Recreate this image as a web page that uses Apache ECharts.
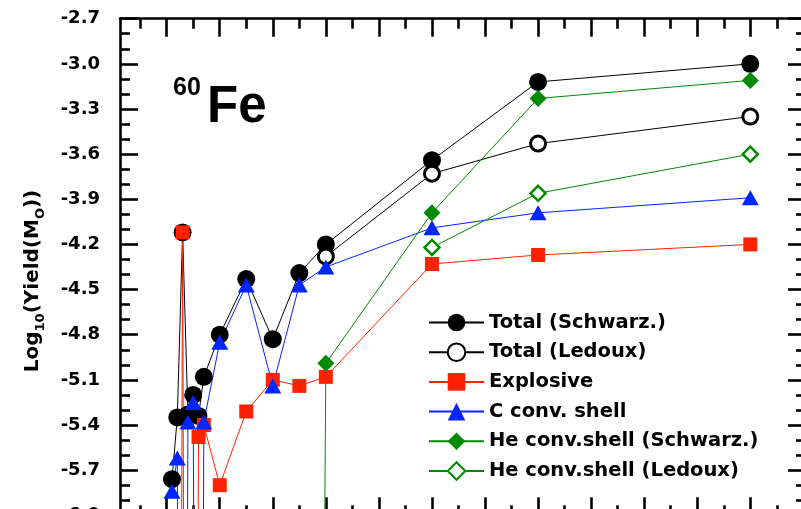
<!DOCTYPE html>
<html>
<head>
<meta charset="utf-8">
<script src="https://cdn.jsdelivr.net/npm/echarts@6/dist/echarts.min.js"></script>
<style>
  html, body { margin: 0; padding: 0; overflow: hidden; background: #ffffff; }
  #chart { width: 830px; height: 540px; }
</style>
</head>
<body>
<div id="chart"></div>
<script>
// Initial stellar mass of each model (solar masses)
const masses = [11, 12, 13, 14, 15, 16, 17, 20, 25, 30, 35, 40, 60, 80, 120];

// log10 of the 60Fe yield (solar masses); a negligible contribution is kept far below the axis floor
const totalSchwarz   = [-5.76, -5.35, -4.12, -5.33, -5.20, -5.34, -5.08, -4.80, -4.43, -4.83, -4.39, -4.20, -3.64, -3.12, -3.00];
const totalLedoux    = [null, null, null, null, null, null, null, null, null, null, null, -4.28, -3.73, -3.53, -3.35];
const explosive      = [-15, -15, -4.12, -15, -15, -5.48, -5.40, -5.80, -5.31, -5.10, -5.14, -5.08, -4.33, -4.27, -4.20];
const cConvShell     = [-5.84, -5.62, -15, -5.38, -5.25, -15, -5.38, -4.85, -4.47, -5.14, -4.47, -4.35, -4.09, -3.99, -3.89];
const heShellSchwarz = [null, null, null, null, null, null, null, null, null, null, -30, -4.99, -3.99, -3.23, -3.11];
const heShellLedoux  = [null, null, null, null, null, null, null, null, null, null, null, null, -4.22, -3.86, -3.60];

// Axis ranges and tick positions
const massMin = 1.2, massMax = 130.5;
const xMajorTicks = [10, 20, 30, 40, 50, 60, 70, 80, 90, 100, 110, 120];
const xMinorTicks = [5, 15, 25, 35, 45, 55, 65, 75, 85, 95, 105, 115, 125];
const yMin = -6.0, yMax = -2.7, yStep = 0.3;

const seriesNames = [
  'Total (Schwarz.)', 'Total (Ledoux)', 'Explosive',
  'C conv. shell', 'He conv.shell (Schwarz.)', 'He conv.shell (Ledoux)'
];

const RED = '#ff2200', BLUE = '#0026ff', GREEN = '#008a00', BLACK = '#000000';

function pairs(vals) {
  return masses.map((m, i) => vals[i] === null ? null : [m, vals[i]]).filter(p => p !== null);
}

const frame = { show: true, lineStyle: { color: '#000', width: 2.6 } };

function xAxisDef(position, ticks, len, showLine) {
  return {
    type: 'value', position: position, min: massMin, max: massMax,
    axisLine: showLine ? frame : { show: false },
    axisTick: { show: true, inside: true, length: len, customValues: ticks,
                lineStyle: { color: '#000', width: 2.6 } },
    axisLabel: { show: false },
    splitLine: { show: false }
  };
}

function yAxisDef(position, showLabels) {
  return {
    type: 'value', position: position, min: yMin, max: yMax, interval: yStep,
    axisLine: frame,
    axisTick: { show: true, inside: true, length: 18, lineStyle: { color: '#000', width: 2.6 } },
    minorTick: { show: true, splitNumber: 3, length: 10, lineStyle: { color: '#000', width: 2.6 } },
    axisLabel: {
      show: showLabels, margin: 20, color: '#000',
      fontFamily: 'DejaVu Sans', fontWeight: 'bold', fontSize: 18,
      formatter: v => v.toFixed(1)
    },
    splitLine: { show: false }
  };
}

const chart = echarts.init(document.getElementById('chart'), null, { renderer: 'canvas' });

chart.setOption({
  backgroundColor: '#ffffff',
  animation: false,
  grid: { left: 120, top: 18.7, width: 686, height: 496.6, containLabel: false },
  xAxis: [
    xAxisDef('bottom', xMajorTicks, 18, true),
    xAxisDef('top', xMajorTicks, 18, true),
    xAxisDef('bottom', xMinorTicks, 10, false),
    xAxisDef('top', xMinorTicks, 10, false)
  ],
  yAxis: [yAxisDef('left', true), yAxisDef('right', false)],
  legend: {
    orient: 'vertical', left: 428, top: 312.5, padding: 0,
    itemWidth: 55, itemHeight: 22, itemGap: 9.7,
    textStyle: { fontFamily: 'DejaVu Sans', fontWeight: 'bold', fontSize: 19.5, color: '#000' },
    data: seriesNames
  },
  graphic: [
    { type: 'text', left: 173, top: 76,
      style: { text: '60', fontFamily: 'Liberation Sans', fontWeight: 'bold', fontSize: 25, fill: '#000' } },
    { type: 'text', left: 207, top: 82,
      style: { text: 'Fe', fontFamily: 'Liberation Sans', fontWeight: 'bold', fontSize: 51, fill: '#000' } },
    { type: 'text', x: 33, y: 281, rotation: Math.PI / 2,
      style: {
        text: '{a|Log}{s|10}{a|(Yield(M}{s|O}{a|))}',
        align: 'center', verticalAlign: 'middle',
        rich: {
          a: { fontFamily: 'DejaVu Sans', fontWeight: 'bold', fontSize: 20, lineHeight: 28, fill: '#000' },
          s: { fontFamily: 'DejaVu Sans', fontWeight: 'bold', fontSize: 13, lineHeight: 14,
               verticalAlign: 'bottom', fill: '#000' }
        }
      } }
  ],
  series: [
    { name: seriesNames[0], type: 'line', data: pairs(totalSchwarz),
      symbol: 'circle', symbolSize: 18,
      lineStyle: { color: BLACK, width: 1 }, itemStyle: { color: BLACK } },
    { name: seriesNames[1], type: 'line', data: pairs(totalLedoux),
      symbol: 'circle', symbolSize: 15,
      lineStyle: { color: BLACK, width: 1 },
      itemStyle: { color: '#fff', borderColor: BLACK, borderWidth: 3 } },
    { name: seriesNames[2], type: 'line', data: pairs(explosive),
      symbol: 'rect', symbolSize: 14,
      lineStyle: { color: RED, width: 1 }, itemStyle: { color: RED } },
    { name: seriesNames[3], type: 'line', data: pairs(cConvShell),
      symbol: 'triangle', symbolSize: [17, 15],
      lineStyle: { color: BLUE, width: 1 }, itemStyle: { color: BLUE } },
    { name: seriesNames[4], type: 'line', data: pairs(heShellSchwarz),
      symbol: 'diamond', symbolSize: 17,
      lineStyle: { color: GREEN, width: 1 }, itemStyle: { color: GREEN } },
    { name: seriesNames[5], type: 'line', data: pairs(heShellLedoux),
      symbol: 'diamond', symbolSize: 15,
      lineStyle: { color: GREEN, width: 1 },
      itemStyle: { color: '#fff', borderColor: GREEN, borderWidth: 2.5 } }
  ]
});
</script>
</body>
</html>
